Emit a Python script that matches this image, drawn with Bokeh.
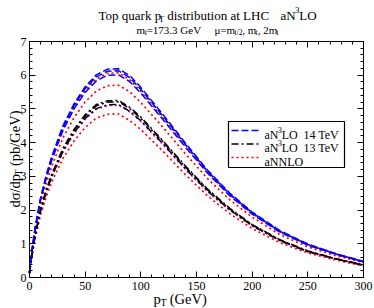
import math
from bokeh.plotting import figure
from bokeh.models import Range1d, LinearAxis, SingleIntervalTicker, Label, CustomJSTickFormatter
from bokeh.embed import file_html
from bokeh.resources import INLINE

# ---------------- data ----------------
pt = [0, 2, 5, 10, 15, 20, 30, 40, 50, 60, 70, 80, 90, 100, 120, 140, 160, 180, 200, 225, 250, 275, 300]

n3lo14_hi = [0.15, 0.76, 1.46, 2.37, 3.03, 3.59, 4.50, 5.15, 5.66, 6.01, 6.18, 6.19, 5.99, 5.64, 4.83, 3.99, 3.18, 2.50, 1.94, 1.39, 0.99, 0.71, 0.48]
n3lo14_mid = [0.15, 0.75, 1.45, 2.35, 3.00, 3.55, 4.45, 5.10, 5.60, 5.95, 6.12, 6.13, 5.93, 5.58, 4.78, 3.95, 3.15, 2.47, 1.92, 1.37, 0.98, 0.70, 0.47]
n3lo14_lo = [0.15, 0.73, 1.42, 2.30, 2.94, 3.48, 4.36, 5.00, 5.49, 5.83, 6.00, 6.01, 5.81, 5.47, 4.68, 3.87, 3.09, 2.42, 1.88, 1.34, 0.96, 0.69, 0.46]

nnlo14_hi = [0.15, 0.74, 1.44, 2.33, 2.97, 3.51, 4.41, 5.05, 5.54, 5.89, 6.06, 6.07, 5.87, 5.52, 4.73, 3.91, 3.12, 2.45, 1.90, 1.36, 0.97, 0.69, 0.47]
nnlo14_lo = [0.14, 0.70, 1.35, 2.19, 2.79, 3.30, 4.14, 4.74, 5.21, 5.53, 5.69, 5.70, 5.51, 5.19, 4.45, 3.67, 2.93, 2.30, 1.79, 1.27, 0.91, 0.65, 0.44]

n3lo13_hi = [0.13, 0.65, 1.25, 2.03, 2.59, 3.06, 3.83, 4.39, 4.83, 5.13, 5.24, 5.25, 5.05, 4.76, 4.05, 3.31, 2.62, 2.05, 1.57, 1.12, 0.79, 0.56, 0.37]
n3lo13_mid = [0.13, 0.64, 1.24, 2.01, 2.57, 3.04, 3.80, 4.36, 4.79, 5.09, 5.20, 5.21, 5.01, 4.72, 4.02, 3.28, 2.60, 2.03, 1.56, 1.11, 0.78, 0.56, 0.37]
n3lo13_lo = [0.13, 0.63, 1.22, 1.98, 2.53, 2.99, 3.74, 4.29, 4.72, 5.01, 5.12, 5.13, 4.93, 4.65, 3.96, 3.23, 2.56, 2.00, 1.54, 1.09, 0.77, 0.55, 0.36]

nnlo13_hi = [0.13, 0.63, 1.22, 1.97, 2.52, 2.98, 3.72, 4.27, 4.69, 4.99, 5.10, 5.11, 4.91, 4.63, 3.94, 3.21, 2.55, 1.99, 1.53, 1.09, 0.76, 0.55, 0.36]
nnlo13_lo = [0.12, 0.60, 1.15, 1.87, 2.39, 2.83, 3.53, 4.05, 4.45, 4.73, 4.84, 4.85, 4.66, 4.39, 3.74, 3.05, 2.42, 1.89, 1.45, 1.03, 0.73, 0.52, 0.34]

x_axis = (0, 300)
y_axis = (0, 7)
legend_labels = [("aN", "3", "LO", "14 TeV"), ("aN", "3", "LO", "13 TeV"), ("aNNLO", None, None, None)]

# ---------------- layout (canvas pixels) ----------------
W, H = 374, 308
FL, FR, FT, FB = 29, 363, 41, 277     # where the axes box sits on the canvas
FONT = "Liberation Serif"

def dx(px):
    return x_axis[0] + (px - FL) * (x_axis[1] - x_axis[0]) / (FR - FL)

def dy(py):
    return y_axis[0] + (FB - py) * (y_axis[1] - y_axis[0]) / (FB - FT)

# the plotting frame spans the whole canvas; the axes are pinned at the box edges
p = figure(width=W, height=H, x_range=Range1d(dx(0), dx(W)), y_range=Range1d(dy(H), dy(0)),
           output_backend="svg", toolbar_location=None,
           x_axis_location=None, y_axis_location=None,
           min_border=0, min_border_left=0, min_border_right=0,
           min_border_top=0, min_border_bottom=0)
p.background_fill_color = "white"
p.border_fill_color = "white"
p.outline_line_color = None
p.xgrid.visible = False
p.ygrid.visible = False

def make_axis(kind, loc, labels):
    if kind == "x":
        t = SingleIntervalTicker(interval=50, num_minor_ticks=5)
        ax = LinearAxis(ticker=t, fixed_location=loc, bounds=x_axis)
    else:
        t = SingleIntervalTicker(interval=1, num_minor_ticks=5)
        ax = LinearAxis(ticker=t, fixed_location=loc, bounds=y_axis)
    ax.axis_line_color = "black"
    ax.axis_line_width = 1
    ax.major_tick_in = 6
    ax.major_tick_out = 0
    ax.minor_tick_in = 3
    ax.minor_tick_out = 0
    ax.major_tick_line_color = "black"
    ax.minor_tick_line_color = "black"
    ax.major_label_text_font = FONT
    ax.major_label_text_font_size = "12px"
    ax.major_label_text_color = "black"
    ax.major_label_standoff = 4 if kind == "x" else 3
    if not labels:
        ax.formatter = CustomJSTickFormatter(code="return ''")
    return ax

p.add_layout(make_axis("x", y_axis[0], True), "below")
p.add_layout(make_axis("y", x_axis[0], True), "left")
p.add_layout(make_axis("x", y_axis[1], False), "above")
p.add_layout(make_axis("y", x_axis[1], False), "right")

# ---------------- curves ----------------
RED, BLUE, MAG = "#ff0000", "#0000ff", "#ff00ff"
DOT, DASH, DASHDOT = "2 3", "7 3", "7 3 2 3"
for ys in (nnlo14_hi, nnlo14_lo, nnlo13_lo):
    p.line(pt, ys, line_color=RED, line_width=1.7, line_dash=DOT)
p.line(pt, nnlo13_hi, line_color=MAG, line_width=1.7, line_dash=DOT)
for ys in (n3lo13_hi, n3lo13_mid, n3lo13_lo):
    p.line(pt, ys, line_color="black", line_width=1.5, line_dash=DASHDOT)
for ys in (n3lo14_hi, n3lo14_mid, n3lo14_lo):
    p.line(pt, ys, line_color=BLUE, line_width=1.5, line_dash=DASH)

# ---------------- rich text helper ----------------
CW = {' ': 250, 'T': 611, 'o': 500, 'p': 500, 'q': 500, 'u': 500, 'a': 444, 'r': 333, 'k': 500,
      'd': 500, 'i': 278, 's': 389, 't': 278, 'b': 500, 'n': 500, 'L': 611, 'H': 722, 'C': 667,
      'N': 722, 'O': 722, 'm': 778, '=': 564, '.': 250, 'G': 722, 'e': 444, 'V': 722, 'μ': 576,
      '/': 278, ',': 250, '(': 333, ')': 333, 'σ': 550}
SCALE = 0.95   # measured / table width

def tw(s):
    return SCALE * sum(CW.get(c, 500) for c in s) / 1000.0

def rich(pieces, px, py, size, angle=0.0):
    pos = 0.0
    for text, mode in pieces:
        if mode == "gap":
            pos += text
            continue
        s = size * (0.7 if mode in ("sub", "sup") else 1.0)
        lead = len(text) - len(text.lstrip(" "))
        pos += lead * tw(" ") * s
        body = text.strip(" ")
        shift = {"n": 0.0, "sub": 0.25 * size, "sup": -0.4 * size}[mode]
        if angle == 0:
            x, y = px + pos, py + shift
        else:
            x, y = px + shift, py - pos
        p.add_layout(Label(x=dx(x), y=dy(y), text=body, text_font=FONT,
                           text_font_size=f"{s:.1f}px", text_baseline="alphabetic",
                           text_align="left", angle=angle, text_color="black"))
        pos += tw(body) * s
        pos += (len(text) - lead - len(body)) * tw(" ") * s

# title
rich([("Top quark p", "n"), ("T", "sub"), (" distribution at LHC", "n")], 98, 15, 13)
rich([("aN", "n"), ("3", "sup"), ("LO", "n")], 280, 15, 13)
# subtitle
rich([("m", "n"), ("t", "sub"), ("=173.3 GeV", "n")], 136, 29.5, 11)
rich([("μ=m", "n"), ("t/2", "sub"), (", m", "n"), ("t", "sub"), (", 2m", "n"), ("t", "sub")],
     214, 29.5, 11)
# axis titles
rich([("p", "n"), ("T", "sub"), (" (GeV)", "n")], 153, 298, 14.5)
rich([("dσ/dp", "n"), ("T", "sub"), (" (pb/GeV)", "n")], 14, 207, 14.5, angle=math.pi / 2)

# ---------------- legend ----------------
LX0, LX1, LY0, LY1 = 228, 344, 121, 167
p.quad(left=dx(LX0), right=dx(LX1), top=dy(LY0), bottom=dy(LY1),
       fill_color="white", line_color="black", line_width=1.2)
rows = [(130, BLUE, DASH), (143.5, "black", DASHDOT), (157, RED, DOT)]
for (ry, col, dash), lab in zip(rows, legend_labels):
    p.line([dx(231), dx(258)], [dy(ry), dy(ry)], line_color=col, line_width=1.5, line_dash=dash)
    if lab[1] is None:
        rich([(lab[0], "n")], 264, ry + 4, 12)
    else:
        rich([(lab[0], "n"), (lab[1], "sup"), (lab[2], "n")], 264, ry + 4, 12)
        rich([(lab[3], "n")], 303, ry + 4, 12)

open("out.html", "w").write(file_html(p, INLINE))
